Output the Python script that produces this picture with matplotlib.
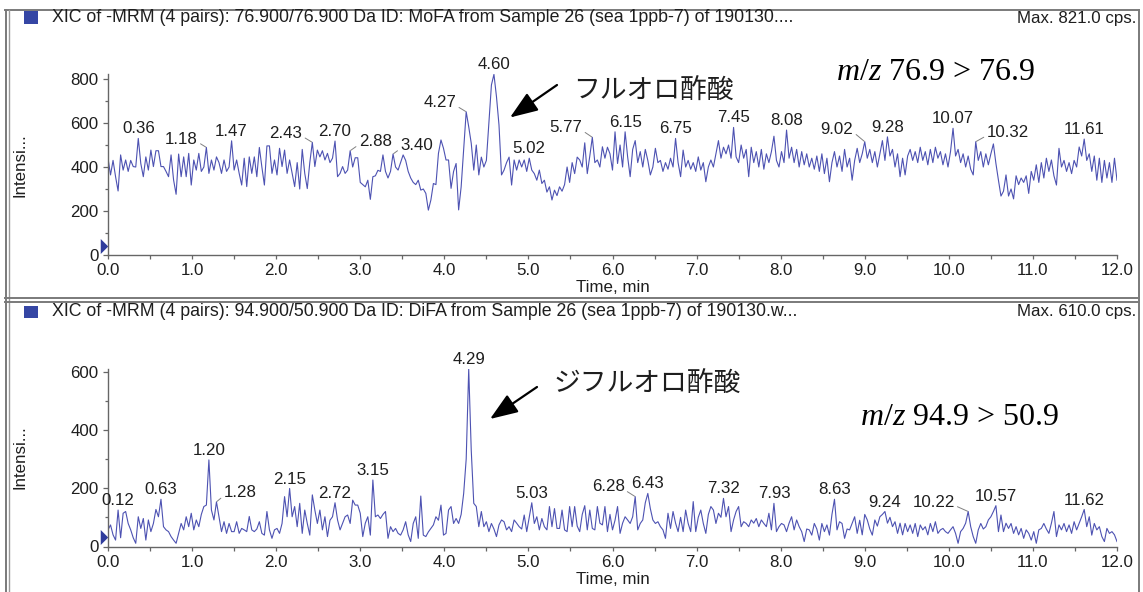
import numpy as np
import matplotlib
matplotlib.use("Agg")
import matplotlib.pyplot as plt
from matplotlib.ticker import MultipleLocator, FormatStrFormatter
from matplotlib.transforms import blended_transform_factory
from matplotlib.lines import Line2D
from matplotlib.patches import Rectangle, FancyArrowPatch

plt.rcParams["font.family"] = ["Liberation Sans", "Noto Sans CJK JP", "DejaVu Sans"]
plt.rcParams["mathtext.fontset"] = "custom"
plt.rcParams["mathtext.it"] = "Liberation Serif:italic"
plt.rcParams["mathtext.rm"] = "Liberation Serif"

W, H = 1143, 592

# ---------------------------------------------------------------
# data : XIC traces, one value every 0.03 min
# ---------------------------------------------------------------
STEP = 0.03
time_min = np.round(np.arange(0, 12.0 + STEP / 2, STEP), 2)

# MoFA, m/z 76.9 > 76.9
mofa_cps = [
    440, 364, 430, 356, 291, 455, 386, 432, 380, 430,
    402, 400, 530, 416, 356, 446, 386, 477, 402, 474,
    474, 402, 402, 380, 356, 455, 341, 276, 459, 356,
    446, 356, 462, 318, 432, 386, 462, 380, 400, 489,
    371, 432, 386, 446, 420, 371, 432, 380, 400, 519,
    386, 432, 371, 318, 440, 311, 446, 371, 446, 356,
    489, 400, 318, 496, 496, 371, 432, 364, 485, 402,
    477, 371, 432, 371, 311, 420, 300, 480, 371, 302,
    420, 512, 402, 477, 446, 474, 432, 462, 420, 440,
    518, 356, 371, 402, 371, 386, 474, 400, 442, 442,
    330, 320, 310, 340, 253, 356, 360, 385, 380, 455,
    380, 350, 380, 459, 400, 386, 420, 455, 430, 380,
    350, 330, 320, 340, 295, 300, 280, 204, 250, 325,
    320, 462, 523, 485, 432, 432, 303, 380, 416, 205,
    310, 477, 651, 583, 508, 386, 500, 364, 445, 400,
    430, 598, 773, 821, 720, 591, 364, 386, 420, 445,
    318, 432, 386, 432, 400, 432, 380, 440, 386, 370,
    340, 386, 325, 340, 286, 310, 250, 295, 270, 310,
    290, 320, 400, 330, 420, 370, 445, 432, 400, 510,
    370, 450, 535, 420, 432, 400, 492, 440, 490, 460,
    386, 560, 416, 500, 400, 560, 446, 356, 480, 520,
    420, 470, 400, 480, 430, 364, 400, 485, 420, 430,
    380, 420, 390, 440, 400, 530, 420, 356, 477, 400,
    430, 390, 420, 380, 446, 386, 420, 333, 400, 432,
    400, 460, 520, 440, 490, 460, 500, 440, 580, 446,
    420, 500, 440, 480, 356, 490, 420, 470, 400, 480,
    390, 460, 420, 470, 540, 430, 400, 470, 420, 568,
    440, 490, 420, 480, 400, 470, 410, 460, 400, 440,
    390, 450, 380, 460, 370, 440, 333, 420, 470, 400,
    450, 380, 480, 400, 440, 340, 430, 485, 420, 460,
    515, 440, 480, 420, 470, 400, 460, 520, 430, 537,
    450, 480, 400, 460, 356, 440, 364, 450, 480, 430,
    470, 420, 490, 430, 470, 410, 480, 420, 490, 440,
    470, 410, 460, 400, 470, 576, 450, 480, 420, 460,
    400, 450, 390, 364, 515, 430, 470, 400, 460, 410,
    460, 505, 416, 340, 268, 290, 364, 268, 300, 255,
    360, 320, 350, 330, 360, 280, 380, 340, 410, 330,
    420, 350, 440, 380, 432, 360, 318, 485, 400, 430,
    380, 420, 370, 430, 400, 491, 450, 527, 430, 460,
    380, 450, 340, 440, 330, 430, 350, 420, 330, 440,
    340,
]

# DiFA, m/z 94.9 > 50.9
difa_cps = [
    57, 74, 40, 22, 125, 30, 114, 120, 79, 57,
    30, 11, 102, 62, 96, 22, 91, 51, 79, 127,
    102, 162, 68, 57, 51, 34, 22, 11, 45, 79,
    57, 102, 68, 114, 57, 91, 68, 110, 137, 142,
    297, 125, 91, 153, 102, 51, 85, 45, 79, 51,
    51, 85, 45, 62, 57, 51, 103, 57, 51, 60,
    85, 45, 39, 120, 57, 28, 57, 62, 45, 79,
    171, 102, 199, 102, 137, 68, 148, 45, 125, 79,
    39, 177, 125, 79, 125, 57, 102, 34, 90, 102,
    150, 91, 57, 80, 102, 108, 79, 159, 142, 142,
    114, 34, 80, 102, 39, 228, 102, 108, 96, 110,
    120, 28, 68, 51, 62, 45, 39, 57, 85, 40,
    17, 79, 102, 28, 173, 39, 34, 50, 62, 74,
    102, 90, 142, 39, 45, 125, 137, 79, 96, 79,
    110, 182, 300, 609, 330, 148, 137, 68, 120, 68,
    85, 51, 79, 60, 34, 74, 91, 85, 57, 68,
    51, 91, 80, 68, 60, 108, 51, 100, 150, 79,
    102, 57, 96, 68, 57, 137, 68, 130, 62, 62,
    125, 57, 51, 137, 68, 137, 70, 51, 110, 140,
    57, 125, 62, 57, 137, 80, 74, 137, 51, 110,
    57, 90, 137, 45, 80, 102, 91, 79, 102, 171,
    57, 79, 91, 150, 182, 130, 91, 79, 85, 68,
    57, 28, 114, 62, 120, 80, 51, 100, 51, 125,
    79, 51, 154, 51, 100, 125, 79, 45, 110, 137,
    125, 79, 114, 100, 165, 102, 137, 51, 91, 120,
    137, 68, 85, 79, 68, 91, 80, 96, 68, 91,
    79, 68, 114, 57, 148, 51, 68, 79, 74, 51,
    80, 102, 57, 91, 68, 51, 17, 60, 57, 39,
    79, 60, 22, 79, 51, 74, 39, 110, 162, 57,
    85, 79, 28, 60, 57, 79, 102, 45, 90, 40,
    110, 91, 60, 39, 91, 70, 102, 110, 120, 80,
    100, 68, 85, 45, 80, 40, 79, 51, 74, 45,
    79, 34, 74, 57, 68, 40, 79, 51, 85, 45,
    57, 62, 51, 45, 57, 68, 45, 11, 51, 62,
    80, 120, 68, 34, 11, 57, 79, 60, 68, 91,
    102, 120, 140, 51, 108, 51, 80, 62, 79, 45,
    68, 40, 62, 28, 57, 45, 22, 51, 11, 57,
    62, 79, 60, 45, 80, 120, 34, 74, 57, 79,
    51, 74, 45, 85, 57, 79, 102, 127, 68, 102,
    39, 79, 57, 68, 34, 17, 62, 45, 51, 40,
    17,
]

# labelled retention times
mofa_peaks = [0.36, 1.18, 1.47, 2.43, 2.70, 2.88, 3.40, 4.27, 4.60, 5.02,
              5.77, 6.15, 6.75, 7.45, 8.08, 9.02, 9.28, 10.07, 10.32, 11.61]
difa_peaks = [0.12, 0.63, 1.20, 1.28, 2.15, 2.72, 3.15, 4.29, 5.03, 6.28,
              6.43, 7.32, 7.93, 8.63, 9.24, 10.22, 10.57, 11.62]

mofa_max, difa_max = 821.0, 610.0

# labels that sit beside the peak with a leader line: offset in points
mofa_leaders = {1.18: (-18, 6), 2.43: (-19, 6.5), 2.88: (18, 6.5), 3.40: (17, 6),
                4.27: (-19, 6.5), 5.77: (-19, 7), 9.02: (-20, 9), 10.32: (23, 6.5)}
difa_leaders = {1.28: (17, 6.5), 6.28: (-19.5, 7), 10.22: (-25, 6.5)}

FS = 12.2
TXT = "#1e1e1e"
LINE = "#4d52b2"
AXC = "#666666"

fig = plt.figure(figsize=(W / 100, H / 100), dpi=100)


def fig_text(x, y, s, **kw):
    fig.text(x / W, 1 - y / H, s, **kw)


def hline(y, x0, x1, **kw):
    fig.add_artist(Line2D([x0 / W, x1 / W], [1 - y / H, 1 - y / H],
                          transform=fig.transFigure, **kw))


def vline(x, y0, y1, **kw):
    fig.add_artist(Line2D([x / W, x / W], [1 - y0 / H, 1 - y1 / H],
                          transform=fig.transFigure, **kw))


def make_axes(top, bottom, ymax):
    ax = fig.add_axes([108 / W, 1 - bottom / H, 1009 / W, (bottom - top) / H])
    ax.set_xlim(0, 12.0)
    ax.set_ylim(0, ymax)
    for s in ("top", "right"):
        ax.spines[s].set_visible(False)
    for s in ("left", "bottom"):
        ax.spines[s].set_color(AXC)
        ax.spines[s].set_linewidth(1.0)
    ax.xaxis.set_major_locator(MultipleLocator(1.0))
    ax.xaxis.set_minor_locator(MultipleLocator(0.5))
    ax.xaxis.set_major_formatter(FormatStrFormatter("%.1f"))
    ax.yaxis.set_major_locator(MultipleLocator(200))
    ax.yaxis.set_minor_locator(MultipleLocator(100))
    ax.tick_params(axis="x", which="major", length=2.9, width=0.9, pad=3.0,
                   color=AXC, labelsize=FS, labelcolor=TXT)
    ax.tick_params(axis="x", which="minor", length=2.6, width=0.9, color=AXC)
    ax.tick_params(axis="y", which="major", length=3.6, width=0.9, pad=3.3,
                   color=AXC, labelsize=FS, labelcolor=TXT)
    ax.tick_params(axis="y", which="minor", length=2.2, width=0.9, color=AXC)
    ax.set_ylabel("Intensi...", fontsize=FS, color=TXT)
    ax.yaxis.set_label_coords(-0.0795, 0.5)
    return ax


def label_peaks(ax, t, y, peaks, leaders):
    for p in peaks:
        m = np.abs(t - p) < 0.026
        i = np.flatnonzero(m)[np.argmax(y[m])]
        if p in leaders:
            dx, dy = leaders[p]
            ax.annotate(f"{p:.2f}", xy=(t[i], y[i]), xytext=(dx, dy),
                        textcoords="offset points", ha="center", va="center",
                        fontsize=FS, color=TXT, annotation_clip=False,
                        arrowprops=dict(arrowstyle="-", color="#808080", lw=0.7,
                                        shrinkA=0, shrinkB=0.5,
                                        relpos=(1.0 if dx < 0 else 0.0, 0.3)))
        else:
            ax.annotate(f"{p:.2f}", xy=(t[i], y[i]), xytext=(0, 6.8),
                        textcoords="offset points", ha="center", va="center",
                        fontsize=FS, color=TXT, annotation_clip=False)


def start_marker(ax, yval):
    tr = blended_transform_factory(ax.transAxes, ax.transData)
    ax.plot([-0.0036], [yval], transform=tr, clip_on=False, linestyle="none",
            marker=[(-0.5, -1), (0.5, 0), (-0.5, 1)], markersize=10.8,
            color="#2f3c9c", markeredgewidth=0)


# ---------------------------------------------------------------
# panel frames and headers
# ---------------------------------------------------------------
FRAME = dict(color="#7a7a7a", lw=1.4)
hline(10, 5, 1139, **FRAME)
vline(5.5, 10, 592, **FRAME)
vline(8.5, 10, 592, color="#9a9a9a", lw=1.0)
vline(1139, 10, 592, **FRAME)
hline(298, 5, 1139, **FRAME)
hline(301.5, 5, 1139, **FRAME)

headers = [
    (18, "XIC of -MRM (4 pairs): 76.900/76.900 Da ID: MoFA from Sample 26 (sea 1ppb-7) of 190130....",
     f"Max. {mofa_max:.1f} cps."),
    (312, "XIC of -MRM (4 pairs): 94.900/50.900 Da ID: DiFA from Sample 26 (sea 1ppb-7) of 190130.w...",
     f"Max. {difa_max:.1f} cps."),
]
for yc, title, mx in headers:
    fig.add_artist(Rectangle((23.5 / W, 1 - (yc + 6) / H), 14 / W, 12.5 / H,
                             transform=fig.transFigure, color="#3546a4", lw=0))
    fig_text(52, yc, title, fontsize=12.75, color=TXT, ha="left", va="center")
    fig_text(1136, yc, mx, fontsize=FS, color=TXT, ha="right", va="center")

# ---------------------------------------------------------------
# traces
# ---------------------------------------------------------------
t = time_min
y1 = np.array(mofa_cps, dtype=float)
y2 = np.array(difa_cps, dtype=float)
assert len(y1) == len(t) and len(y2) == len(t)

ax1 = make_axes(74.4, 255, mofa_max)
ax1.plot(t, y1, color=LINE, lw=0.8)
label_peaks(ax1, t, y1, mofa_peaks, mofa_leaders)
start_marker(ax1, 43)
fig_text(612.5, 288, "Time, min", fontsize=FS, color=TXT, ha="center", va="center")

ax2 = make_axes(368.6, 546.5, difa_max)
ax2.plot(t, y2, color=LINE, lw=0.8)
label_peaks(ax2, t, y2, difa_peaks, difa_leaders)
start_marker(ax2, 31)
fig_text(612.5, 580, "Time, min", fontsize=FS, color=TXT, ha="center", va="center")

# ---------------------------------------------------------------
# compound call-outs
# ---------------------------------------------------------------
ARROW = dict(arrowstyle="-|>,head_length=0.85,head_width=0.32", lw=1.6,
             color="black", mutation_scale=20, shrinkA=0, shrinkB=0)
fig.add_artist(FancyArrowPatch((557 / W, 1 - 85 / H), (510 / W, 1 - 117.5 / H),
                               transform=fig.transFigure, **ARROW))
fig.add_artist(FancyArrowPatch((537 / W, 1 - 387 / H), (490 / W, 1 - 419 / H),
                               transform=fig.transFigure, **ARROW))

JP = ["Noto Sans CJK JP", "DejaVu Sans"]
fig_text(573, 91, "フルオロ酢酸", family=JP, fontsize=19.3, color=TXT, ha="left", va="center")
fig_text(553, 384, "ジフルオロ酢酸", family=JP, fontsize=19.3, color=TXT, ha="left", va="center")

SERIF = ["Liberation Serif", "DejaVu Serif"]
fig_text(836, 80, r"$m/z$ 76.9 > 76.9", family=SERIF, fontsize=23, color="black",
         ha="left", va="baseline")
fig_text(860, 425, r"$m/z$ 94.9 > 50.9", family=SERIF, fontsize=23, color="black",
         ha="left", va="baseline")

fig.savefig("out.png", dpi=100)
